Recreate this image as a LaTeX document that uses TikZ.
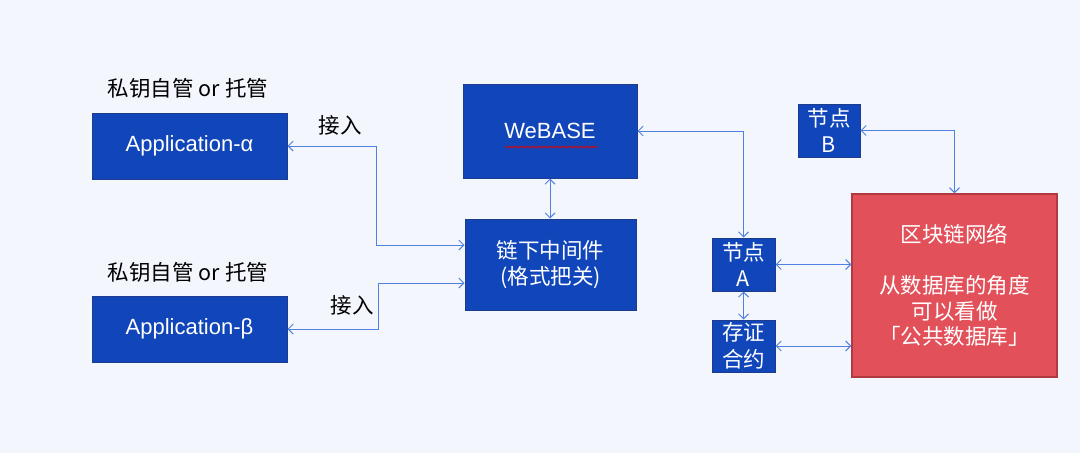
\documentclass[tikz,border=0pt]{standalone}
\usepackage{fontspec}
\setmainfont{Liberation Sans}
\newfontfamily\cjk{Noto Sans CJK SC}
\usetikzlibrary{arrows.meta,decorations.pathmorphing}
\definecolor{bgc}{HTML}{F3F6FD}
\definecolor{boxblue}{HTML}{1146BA}
\definecolor{boxedge}{HTML}{1E3C8C}
\definecolor{linkc}{HTML}{5080E0}
\definecolor{redfill}{HTML}{E2515A}
\definecolor{rededge}{HTML}{B03A40}
\tikzset{
  bluebox/.style={draw=boxedge, line width=1pt, fill=boxblue, text=white, inner sep=0pt, align=center,
    font=\cjk\fontsize{21.5}{26.5}\selectfont},
  redbox/.style={draw=rededge, line width=1.2pt, fill=redfill, text=white, inner sep=0pt, align=center,
    font=\cjk\fontsize{21.5}{25.5}\selectfont},
  lbl/.style={text=black, inner sep=0pt, font=\cjk\fontsize{21.5}{26}\selectfont},
  conn/.style={draw=linkc, line width=1pt,
    {Straight Barb[length=5pt,width=10pt]}-{Straight Barb[length=5pt,width=10pt]}},
}
\begin{document}
\begin{tikzpicture}[x=1pt,y=-1pt]
\fill[bgc] (0,0) rectangle (1080,453);
\useasboundingbox (0,0) rectangle (1080,453);

\node[bluebox, minimum width=195pt, minimum height=66pt, font=\fontsize{22}{26}\selectfont] (appa) at (189.5,146) {Application-α};
\node[bluebox, minimum width=195pt, minimum height=66pt, font=\fontsize{22}{26}\selectfont] (appb) at (189.5,329) {Application-β};
\node[lbl] (la) at (188,88) {私钥自管 or 托管};
\node[lbl] (lb) at (188,272) {私钥自管 or 托管};

\node[bluebox, minimum width=174pt, minimum height=94pt, font=\fontsize{22}{26}\selectfont] (web) at (550,131) {WeBASE};
\node[bluebox, minimum width=171pt, minimum height=91pt] (mid) at (550.5,264.5) {链下中间件\\(格式把关)};

\node[bluebox, minimum width=62pt, minimum height=53pt] (nb) at (829,130.5) {节点\\B};
\node[bluebox, minimum width=63pt, minimum height=53pt] (na) at (743.5,264.5) {节点\\A};
\node[bluebox, minimum width=63pt, minimum height=52pt] (st) at (743.5,346) {存证\\合约};

\node[redbox, minimum width=205pt, minimum height=183pt] (net) at (954.5,285.5) {区块链网络\\[25.5pt]从数据库的角度\\可以看做\\「公共数据库」};

\node[lbl] (ja) at (340,125) {接入};
\node[lbl] (jb) at (352,305) {接入};

% spell-check underline under WeBASE
\coordinate (u1) at ([xshift=-45pt,yshift=-16pt]web.center);
\coordinate (u2) at ([xshift=48pt,yshift=-16pt]web.center);
\draw[red!85!black, line width=0.7pt, decorate, decoration={snake, amplitude=0.9pt, segment length=3pt}] (u1) -- (u2);

\draw[conn] (appa.east) -- ++(89,0) |- ([yshift=19.5pt]mid.west);
\draw[conn] (appb.east) -- ++(91,0) |- ([yshift=-18.5pt]mid.west);
\draw[conn] (web.south) -- (web.south |- mid.north);
\draw[conn] (web.east) -| (na.north);
\draw[conn] (nb.east) -| (net.north);
\draw[conn] (na.east) -- (net.west |- na.east);
\draw[conn] (na.south) -- (st.north);
\draw[conn] (st.east) -- (net.west |- st.east);
\end{tikzpicture}
\end{document}
